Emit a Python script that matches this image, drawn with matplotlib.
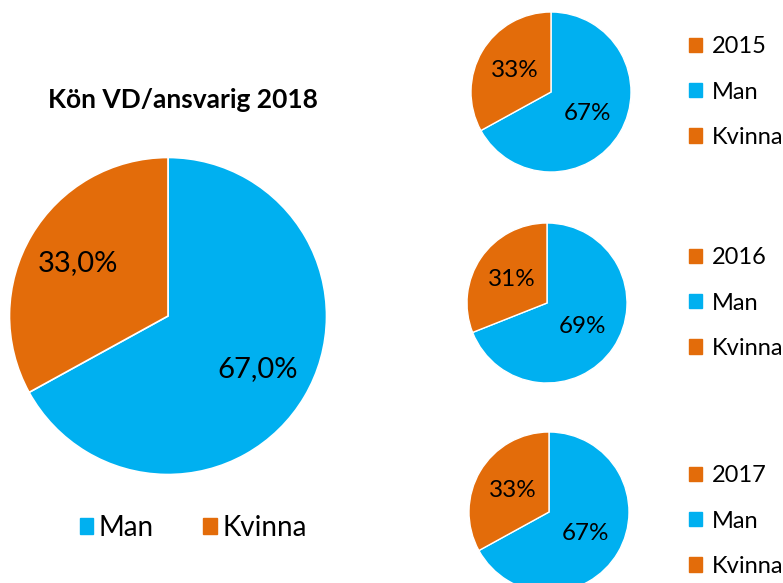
""" Kön VD/ansvarig: large pie for 2018 plus small pies for 2015-2017. """

import matplotlib.pyplot as plt
from matplotlib.patches import Patch

# Data
labels = ['Man', 'Kvinna']
share_2018 = [67.0, 33.0]
years_small = ['2015', '2016', '2017']
share_small = [[67, 33], [69, 31], [67, 33]]

BLUE = '#00B0F0'
ORANGE = '#E36C0A'
colors = [BLUE, ORANGE]

W, H = 783, 583
plt.rcParams['font.family'] = ['Lato', 'DejaVu Sans']
fig = plt.figure(figsize=(W / 100, H / 100), dpi=100)


def px_axes(cx, cy, r):
    # square axes centred on (cx, cy) in pixel coordinates (from the top left)
    ax = fig.add_axes([(cx - r) / W, (H - cy - r) / H, 2 * r / W, 2 * r / H])
    ax.axis('off')
    return ax


def fix_limits(ax):
    # pie() resets the limits to +-1.25, put them back to the radius
    ax.set_xlim(-1, 1)
    ax.set_ylim(-1, 1)


# Big pie, 2018
ax = px_axes(168, 316, 158.5)
ax.pie(share_2018, colors=colors, startangle=90, counterclock=False,
       autopct=lambda p: f'{p:.1f}%'.replace('.', ','), pctdistance=0.66,
       textprops={'fontsize': 21, 'color': 'black'}, radius=1,
       wedgeprops={'linewidth': 1.2, 'edgecolor': 'white'})
fix_limits(ax)
fig.text(183 / W, 1 - 100 / H, 'Kön VD/ansvarig 2018', ha='center', va='center',
         fontsize=19, fontweight='bold')
fig.legend(handles=[Patch(color=c, label=l) for c, l in zip(colors, labels)],
           loc='center', bbox_to_anchor=(193 / W, 1 - 528 / H), ncol=2,
           frameon=False, fontsize=20, handlelength=0.5, handleheight=0.5,
           handletextpad=0.2, columnspacing=1.75)

# Small pies, 2015-2017
centers = [(551, 92), (547, 303), (549, 512)]
legend_y = [92, 303, 521]
for year, vals, (cx, cy), ly in zip(years_small, share_small, centers, legend_y):
    a = px_axes(cx, cy, 80)
    a.pie(vals, colors=colors, startangle=90, counterclock=False,
          autopct=lambda p: f'{p:.0f}%', pctdistance=0.53,
          textprops={'fontsize': 17.5, 'color': 'black'}, radius=1,
          wedgeprops={'linewidth': 1, 'edgecolor': 'white'})
    fix_limits(a)
    handles = [Patch(color=ORANGE, label=year)] + \
              [Patch(color=c, label=l) for c, l in zip(colors, labels)]
    fig.legend(handles=handles, loc='center left',
               bbox_to_anchor=(668 / W, 1 - ly / H), frameon=False,
               fontsize=17, handlelength=0.55, handleheight=0.55,
               handletextpad=0.4, labelspacing=1.03)

fig.savefig('out.png', dpi=100)
